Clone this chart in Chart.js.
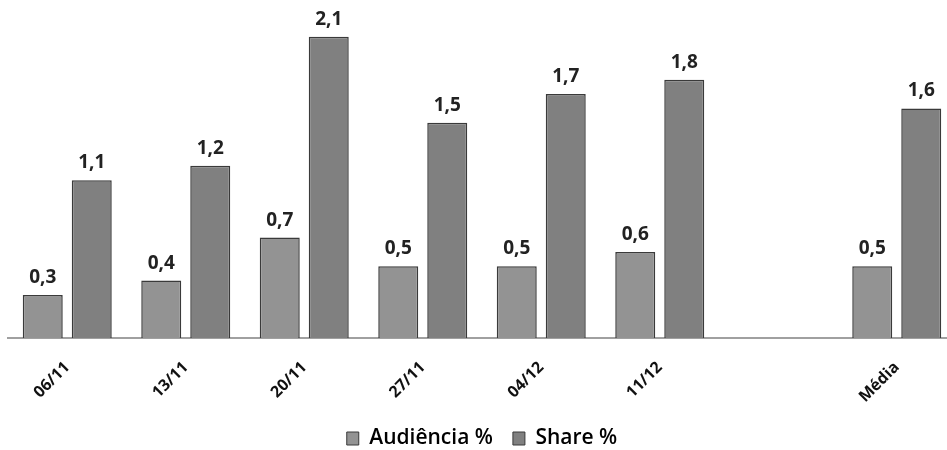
<!DOCTYPE html>
<html>
<head>
<meta charset="utf-8">
<script src="https://cdn.jsdelivr.net/npm/chart.js@4.4.1/dist/chart.umd.min.js"></script>
<style>
  html, body { margin: 0; padding: 0; background: #fff; overflow: hidden; }
  #wrap { width: 956px; height: 459px; }
</style>
</head>
<body>
<div id="wrap"><canvas id="audChart"></canvas></div>
<script>
// weeks along the x-axis (blank slot before the average)
var semanas = ["06/11", "13/11", "20/11", "27/11", "04/12", "11/12", "", "Média"];
// values
var audiencia = [0.3, 0.4, 0.7, 0.5, 0.5, 0.6, null, 0.5];
var share = [1.1, 1.2, 2.1, 1.5, 1.7, 1.8, null, 1.6];

function barFill(light, dark) {
  return function (c) {
    var area = c.chart.chartArea;
    var el = c.element;
    if (!area || !el || el.width == null) return light;
    var x0 = el.x - el.width / 2, x1 = el.x + el.width / 2;
    var g = c.chart.ctx.createLinearGradient(x0, 0, x1, 0);
    g.addColorStop(0, dark);
    g.addColorStop(0.15, light);
    g.addColorStop(0.85, light);
    g.addColorStop(1, dark);
    return g;
  };
}

// value labels above the bars, with decimal comma
var rotulos = {
  id: "rotulos",
  afterDatasetsDraw: function (chart) {
    var ctx = chart.ctx;
    ctx.save();
    ctx.font = "bold 19px 'Open Sans', sans-serif";
    ctx.fillStyle = "#222";
    ctx.textAlign = "center";
    ctx.textBaseline = "alphabetic";
    chart.data.datasets.forEach(function (ds, i) {
      chart.getDatasetMeta(i).data.forEach(function (bar, j) {
        if (ds.data[j] == null) return;
        ctx.fillText(ds.data[j].toFixed(1).replace(".", ","), bar.x, bar.y - 12);
      });
    });
    ctx.restore();
  }
};

var charty = document.getElementById("audChart");
var audChart = new Chart(charty, {
  type: "bar",
  data: {
    labels: semanas,
    datasets: [
      {
        label: "Audiência %",
        data: audiencia,
        backgroundColor: barFill("#939393", "#6a6a6a"),
        borderColor: "#3a3a3a",
        borderWidth: 1.5,
        borderSkipped: "bottom"
      },
      {
        label: "Share %",
        data: share,
        backgroundColor: barFill("#808080", "#5e5e5e"),
        borderColor: "#3a3a3a",
        borderWidth: 1.5,
        borderSkipped: "bottom"
      }
    ]
  },
  options: {
    responsive: true,
    maintainAspectRatio: false,
    animation: false,
    layout: { padding: { left: 8, top: 8, right: 0, bottom: 0 } },
    categoryPercentage: 0.827,
    barPercentage: 0.816,
    plugins: {
      tooltip: { enabled: false },
      legend: {
        position: "bottom",
        labels: {
          color: "#333",
          font: { family: "'Open Sans', sans-serif", size: 21, weight: "600" },
          boxWidth: 12,
          boxHeight: 13,
          padding: 20,
          generateLabels: function (chart) {
            var fills = ["#939393", "#808080"];
            return chart.data.datasets.map(function (ds, i) {
              return {
                text: ds.label,
                fillStyle: fills[i],
                strokeStyle: "#3a3a3a",
                lineWidth: 1,
                datasetIndex: i
              };
            });
          }
        }
      }
    },
    scales: {
      x: {
        grid: { display: false },
        border: { display: true, color: "#a0a0a0", width: 2 },
        ticks: {
          color: "#111",
          font: { family: "'Open Sans', sans-serif", size: 16, weight: "bold" },
          maxRotation: 45,
          minRotation: 45,
          padding: 12,
          autoSkip: false
        },
        afterFit: function (scale) { scale.height = 70; }
      },
      y: {
        display: false,
        min: 0,
        max: 2.3
      }
    }
  },
  plugins: [rotulos]
});
</script>
</body>
</html>
